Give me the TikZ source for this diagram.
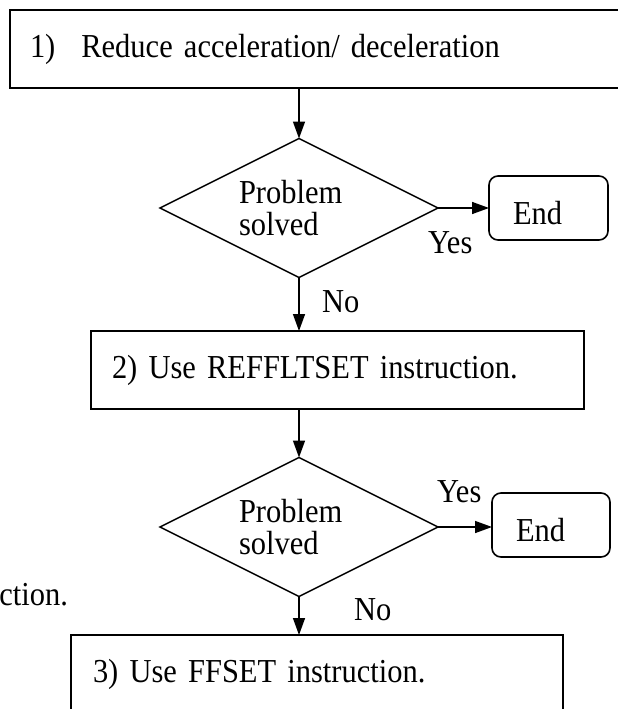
\documentclass[tikz,border=0pt]{standalone}
\usepackage{fontspec}
% slightly condensed, taller serif face
\setmainfont[FakeStretch=0.91]{Liberation Serif}
\usetikzlibrary{shapes.geometric,arrows.meta}
% body font with tight word spacing
\newcommand\chartfont{\fontsize{33.5}{32}\selectfont\spaceskip=6pt plus 1pt minus 1pt\relax}
\begin{document}
\begin{tikzpicture}[x=1pt,y=-1pt,
  font=\chartfont,
  every node/.style={outer sep=0pt},
  stepbox/.style={draw, line width=1.9pt, anchor=north west, align=left,
    minimum height=78pt},
  decision/.style={draw, line width=1.5pt, diamond, shape aspect=2,
    minimum width=278pt, minimum height=139pt, text width=120pt,
    align=left, inner sep=2pt},
  endbox/.style={draw, line width=1.6pt, rounded corners=9pt, anchor=north west,
    minimum height=64pt, inner xsep=24pt, inner ysep=0pt, align=left,
    text height=32pt, text depth=0pt},
  flow/.style={line width=1.5pt, -{Triangle[length=17pt,width=12pt]}},
  tag/.style={anchor=base west, inner sep=0pt}
]
\useasboundingbox (0,0) rectangle (618,709);
\clip (0,0) rectangle (618,709);

% process steps
\node[stepbox, minimum width=630pt, inner xsep=20pt, text width=590pt]
  (b1) at (10,10) {1)\hspace{26pt}Reduce acceleration/ deceleration};
\node[stepbox, minimum width=493pt, inner xsep=21pt, text width=451pt]
  (b2) at (91,331) {2) Use REFFLTSET instruction.};
\node[stepbox, minimum width=492pt, inner xsep=22pt, text width=448pt]
  (b3) at (71,635) {3) Use FFSET instruction.};

% decisions
\node[decision] (d1) at (299,208) {Problem\\solved};
\node[decision] (d2) at (299,527) {Problem\\solved};

% terminators
\node[endbox, minimum width=119pt, text width=71pt] (e1) at (489,176) {End};
\node[endbox, minimum width=118pt, text width=70pt] (e2) at (492,493) {End};

% connectors
\draw[flow] (d1.north |- b1.south) -- (d1.north);
\draw[flow] (d1.east) -- (e1.west |- d1.east);
\draw[flow] (d1.south) -- (d1.south |- b2.north);
\draw[flow] (d2.north |- b2.south) -- (d2.north);
\draw[flow] (d2.east) -- (e2.west |- d2.east);
\draw[flow] (d2.south) -- (d2.south |- b3.north);

% branch labels
\node[tag] (yes1) at (428,253) {Yes};
\node[tag] (no1) at (322,312) {No};
\node[tag] (yes2) at (437,502) {Yes};
\node[tag] (no2) at (354,620) {No};

% trailing text at the left margin
\node[anchor=base east, inner sep=0pt] (trail) at (68,605) {ction.};
\end{tikzpicture}
\end{document}
